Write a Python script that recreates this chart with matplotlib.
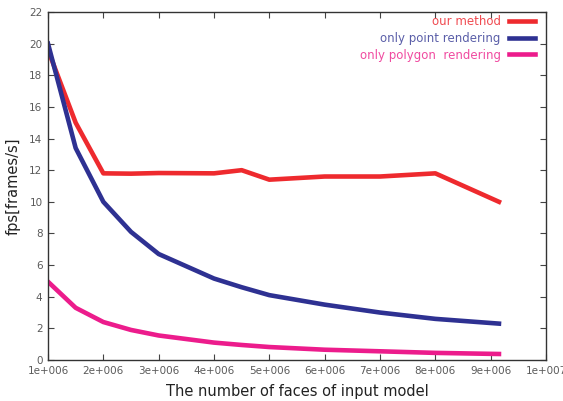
import matplotlib
matplotlib.use('Agg')
import matplotlib.pyplot as plt

faces = [1.0e6, 1.5e6, 2.0e6, 2.5e6, 3.0e6, 4.0e6, 4.5e6, 5.0e6, 6.0e6, 7.0e6, 8.0e6, 9.15e6]
our_method = [19.6, 15.0, 11.8, 11.78, 11.82, 11.8, 12.0, 11.4, 11.6, 11.6, 11.8, 10.0]
point_only = [20.0, 13.4, 10.0, 8.1, 6.7, 5.15, 4.6, 4.1, 3.5, 3.0, 2.6, 2.3]
polygon_only = [4.95, 3.3, 2.4, 1.9, 1.55, 1.1, 0.95, 0.82, 0.65, 0.55, 0.45, 0.38]

xticks = [1e6, 2e6, 3e6, 4e6, 5e6, 6e6, 7e6, 8e6, 9e6, 1e7]
xtick_labels = ['1e+006', '2e+006', '3e+006', '4e+006', '5e+006',
                '6e+006', '7e+006', '8e+006', '9e+006', '1e+007']
yticks = list(range(0, 23, 2))

fig = plt.figure(figsize=(5.63, 4.01), dpi=100)
ax = fig.add_axes([48 / 563, 41 / 401, 498 / 563, 348 / 401])

ax.plot(faces, our_method, color='#ee2a2e', lw=3.3, label='our method')
ax.plot(faces, point_only, color='#2e3192', lw=3.3, label='only point rendering')
ax.plot(faces, polygon_only, color='#ec1c8c', lw=3.3, label='only polygon  rendering')

ax.set_xlim(1e6, 1e7)
ax.set_ylim(0, 22)
ax.set_xticks(xticks)
ax.set_xticklabels(xtick_labels)
ax.set_yticks(yticks)
ax.tick_params(direction='in', top=True, right=True, length=4, width=0.8,
               colors='#444444', labelcolor='#5a5a5a', labelsize=7.5, pad=4)
for s in ax.spines.values():
    s.set_color('#333333')
    s.set_linewidth(1.0)

ax.set_xlabel('The number of faces of input model', fontsize=10.5, color='#222222', labelpad=6)
ax.set_ylabel('fps[frames/s]', fontsize=10.5, color='#222222', labelpad=6)

leg = ax.legend(loc='upper right', bbox_to_anchor=(0.978, 0.99), frameon=False,
                markerfirst=False, fontsize=8.5,
                handlelength=2.2, handletextpad=0.7, labelspacing=0.3,
                borderaxespad=0.0, borderpad=0.0,
                labelcolor=['#f04a50', '#5a5ea8', '#f04aa0'])

fig.savefig('out.png', dpi=100)
